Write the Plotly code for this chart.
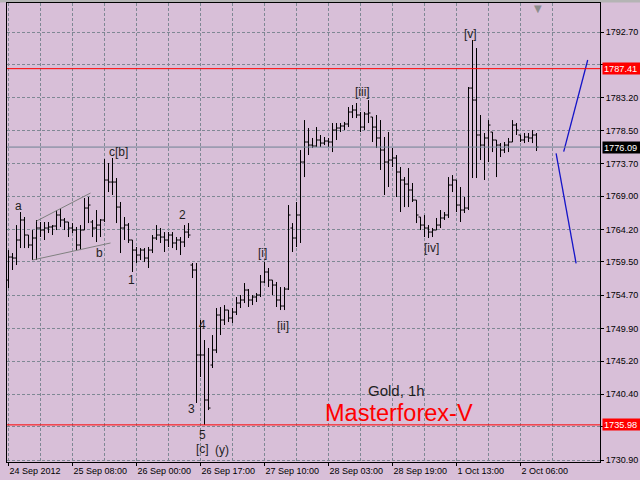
import plotly.graph_objects as go

# ---------------- data (Gold, 1h) ----------------
bar_index = list(range(133))
opens = [1756.89,1760.21,1760.07,1762.67,1765.56,1763.39,1761.95,1762.96,1764.40,1764.11,
         1764.40,1764.55,1764.69,1766.28,1765.56,1765.27,1764.40,1764.11,1761.95,1764.11,
         1767.29,1765.27,1764.40,1764.83,1765.56,1771.33,1771.04,1771.04,1767.43,1764.40,
         1764.83,1762.67,1761.22,1760.50,1761.22,1760.07,1761.22,1762.96,1763.39,1763.10,
         1762.67,1763.39,1762.24,1762.67,1762.38,1763.82,1759.06,1758.34,1746.07,1746.07,
         1739.57,1744.62,1746.79,1751.84,1751.12,1752.56,1751.41,1752.27,1753.57,1754.01,
         1755.45,1754.01,1754.44,1754.73,1756.61,1758.05,1756.89,1756.17,1754.01,1753.14,
         1755.59,1764.40,1762.96,1766.28,1773.93,1776.82,1776.38,1776.24,1777.11,1776.67,
         1776.96,1776.82,1778.55,1778.84,1779.13,1779.42,1781.15,1781.44,1780.72,1778.98,
         1780.86,1780.43,1778.98,1777.40,1775.66,1773.93,1774.22,1774.51,1772.49,1771.33,
         1770.75,1769.89,1768.44,1765.99,1764.83,1764.40,1763.82,1764.11,1764.83,1765.85,
         1766.28,1770.61,1771.33,1767.72,1767.00,1767.29,1784.61,1782.88,1777.83,1776.38,
         1777.40,1778.26,1777.11,1776.38,1775.66,1776.38,1776.82,1779.27,1777.83,1777.11,
         1777.54,1777.40,1777.83]
highs = [1761.22,1760.79,1764.83,1766.71,1765.99,1763.39,1764.11,1765.56,1765.27,1765.27,
         1765.27,1764.83,1767.00,1767.29,1765.85,1765.27,1765.12,1764.55,1764.83,1768.73,
         1768.88,1765.56,1767.00,1765.70,1774.36,1773.79,1774.51,1771.62,1768.16,1765.99,
         1765.12,1762.67,1761.66,1761.51,1761.51,1761.66,1763.39,1764.83,1764.40,1763.82,
         1763.82,1763.82,1763.10,1763.10,1764.83,1765.12,1759.35,1759.35,1751.12,1748.23,
         1747.08,1748.95,1752.85,1753.00,1753.28,1752.56,1752.85,1754.44,1754.73,1756.46,
         1755.59,1754.73,1755.02,1757.62,1759.49,1758.63,1756.89,1756.61,1755.88,1755.88,
         1767.72,1765.12,1768.16,1775.66,1779.99,1778.84,1777.40,1778.98,1777.83,1777.54,
         1777.40,1779.56,1779.56,1779.56,1779.71,1781.87,1782.16,1782.45,1781.15,1781.15,
         1782.88,1780.43,1780.72,1779.99,1777.54,1778.26,1775.95,1774.94,1773.21,1771.76,
         1773.06,1770.90,1768.44,1765.99,1766.28,1764.83,1764.40,1765.85,1767.00,1766.71,
         1771.76,1772.05,1771.33,1770.32,1768.88,1784.76,1791.54,1790.39,1780.72,1778.12,
         1779.99,1778.26,1777.11,1776.67,1776.82,1777.40,1779.99,1779.56,1777.83,1778.12,
         1778.12,1778.55,1778.12]
lows = [1755.74,1758.34,1759.06,1761.51,1761.51,1761.51,1759.78,1759.78,1763.10,1762.67,
        1763.68,1763.39,1764.11,1764.55,1764.11,1763.10,1763.68,1761.22,1761.22,1764.11,
        1765.12,1763.10,1762.38,1763.10,1765.27,1769.60,1769.17,1765.12,1760.79,1762.67,
        1762.24,1758.05,1759.35,1759.78,1759.49,1758.63,1760.79,1762.67,1762.24,1760.94,
        1761.66,1761.51,1761.22,1760.50,1761.66,1762.96,1757.18,1739.14,1742.89,1735.98,
        1738.12,1744.19,1746.35,1748.95,1750.40,1750.83,1750.69,1751.84,1752.85,1753.57,
        1753.00,1753.28,1753.72,1754.44,1756.46,1755.88,1754.73,1753.00,1752.56,1752.56,
        1755.45,1760.94,1761.66,1762.24,1771.76,1774.94,1775.95,1776.10,1776.10,1776.38,
        1776.10,1775.37,1777.11,1778.26,1778.55,1778.98,1780.28,1780.28,1778.26,1778.55,
        1779.56,1776.82,1775.95,1772.78,1769.17,1770.32,1773.21,1768.88,1766.71,1767.43,
        1767.43,1768.16,1765.12,1764.11,1763.10,1762.96,1763.10,1764.11,1764.40,1765.56,
        1765.85,1769.60,1766.71,1765.27,1766.57,1767.00,1771.62,1771.62,1774.22,1771.33,
        1773.93,1775.37,1771.76,1774.65,1775.23,1775.37,1776.82,1777.83,1776.82,1776.67,
        1776.82,1776.67,1775.52]
closes = [1760.21,1760.07,1762.67,1765.56,1763.39,1761.95,1762.96,1764.40,1764.11,1764.40,
          1764.55,1764.69,1766.28,1765.56,1765.27,1764.40,1764.11,1761.95,1764.11,1767.29,
          1767.72,1764.40,1764.83,1765.56,1771.33,1771.04,1771.04,1767.43,1764.40,1764.83,
          1762.67,1761.22,1760.50,1761.22,1760.07,1761.22,1762.96,1763.39,1763.10,1762.67,
          1763.39,1762.24,1762.67,1762.38,1763.82,1763.39,1758.34,1746.07,1746.07,1739.57,
          1738.41,1746.79,1751.84,1751.12,1752.56,1751.41,1752.27,1753.57,1754.01,1755.45,
          1754.01,1754.44,1754.73,1756.61,1758.05,1756.89,1756.17,1754.01,1753.14,1755.59,
          1766.28,1762.96,1766.28,1773.93,1776.82,1776.38,1776.24,1777.11,1776.67,1776.96,
          1776.82,1778.55,1778.84,1779.13,1779.42,1781.15,1781.44,1780.72,1778.98,1780.86,
          1781.01,1778.98,1777.40,1775.66,1773.93,1774.22,1774.51,1772.49,1771.33,1770.75,
          1769.89,1768.44,1766.28,1764.83,1764.40,1763.82,1764.11,1764.83,1765.85,1766.28,
          1770.61,1771.33,1767.72,1767.00,1767.29,1784.61,1782.88,1777.83,1776.38,1777.40,
          1779.27,1777.11,1776.38,1775.66,1776.38,1776.82,1779.27,1778.55,1777.11,1777.54,
          1777.40,1777.83,1776.09]

x_tick_bars = [0, 16, 32, 48, 64, 80, 96, 112, 128]
x_tick_labels = ["24 Sep 2012", "25 Sep 08:00", "26 Sep 00:00", "26 Sep 17:00",
                 "27 Sep 10:00", "28 Sep 03:00", "28 Sep 19:00", "1 Oct 13:00", "2 Oct 06:00"]
x_grid_bars = [8, 24, 40, 56, 72, 88, 104, 120, 136]

# grid levels; the 1735.70 and 1788.00 labels sit under the price boxes in the reference
y_tick_values = [1730.90, 1735.70, 1740.40, 1745.20, 1749.90, 1754.70, 1759.50,
                 1764.20, 1769.00, 1773.70, 1778.50, 1783.20, 1788.00, 1792.70]
y_tick_labels = ["1730.90", "", "1740.40", "1745.20", "1749.90", "1754.70", "1759.50",
                 "1764.20", "1769.00", "1773.70", "1778.50", "1783.20", "", "1792.70"]

level_prices = [1787.41, 1776.09, 1735.98]
level_colors = ["#FF0000", "#6F8294", "#FF0000"]
level_box_colors = ["#FF0000", "#000000", "#FF0000"]

wedge_upper_x = [7.0, 20.5]
wedge_upper_y = [1765.41, 1769.45]
wedge_lower_x = [6.0, 25.5]
wedge_lower_y = [1759.78, 1762.24]

proj_down_x = [136.9, 141.9]
proj_down_y = [1775.18, 1759.30]
proj_up_x = [138.8, 144.8]
proj_up_y = [1775.42, 1788.66]

wave_labels = ["a", "c[b]", "b", "1", "2", "3", "4", "5", "[c]", "(y)",
               "[i]", "[ii]", "[iii]", "[iv]", "[v]"]
wave_x = [2.6, 27.6, 22.7, 30.7, 43.6, 45.7, 48.5, 48.5, 48.5, 53.4,
          63.5, 68.7, 88.6, 105.7, 115.5]
wave_y = [1767.58, 1775.37, 1760.79, 1756.89, 1766.28, 1738.27, 1750.40, 1734.51, 1732.49, 1732.35,
          1760.79, 1750.25, 1784.04, 1761.51, 1792.41]

BG = "#D8BFD8"
GRID = "#7F8894"
FONT = "Liberation Sans, Arial, sans-serif"

fig = go.Figure()

fig.add_trace(go.Ohlc(
    x=bar_index, open=opens, high=highs, low=lows, close=closes,
    increasing=dict(line=dict(color="black", width=1)),
    decreasing=dict(line=dict(color="black", width=1)),
    tickwidth=0.5, showlegend=False, hoverinfo="skip"))

fig.add_trace(go.Scatter(x=wedge_upper_x, y=wedge_upper_y, mode="lines",
                         line=dict(color="#808080", width=1), showlegend=False, hoverinfo="skip"))
fig.add_trace(go.Scatter(x=wedge_lower_x, y=wedge_lower_y, mode="lines",
                         line=dict(color="#808080", width=1), showlegend=False, hoverinfo="skip"))
fig.add_trace(go.Scatter(x=proj_down_x, y=proj_down_y, mode="lines",
                         line=dict(color="#1414C8", width=1.3), showlegend=False, hoverinfo="skip"))
fig.add_trace(go.Scatter(x=proj_up_x, y=proj_up_y, mode="lines",
                         line=dict(color="#1414C8", width=1.3), showlegend=False, hoverinfo="skip"))

shapes = []
for p, c in zip(level_prices, level_colors):
    shapes.append(dict(type="line", xref="paper", x0=0, x1=1, yref="y", y0=p, y1=p,
                       line=dict(color=c, width=1), layer="above"))
# top grey strip of the window frame
shapes.append(dict(type="rect", xref="paper", yref="paper", x0=-0.02, x1=1.1,
                   y0=1.0011, y1=1.01, fillcolor="#B4B4B4", line=dict(width=0), layer="below"))

annotations = []
for t, x, y in zip(wave_labels, wave_x, wave_y):
    annotations.append(dict(x=x, y=y, xref="x", yref="y", text=t, showarrow=False,
                            font=dict(family=FONT, size=12, color="#1E1E1E")))
annotations.append(dict(x=96.9, y=1741.01, xref="x", yref="y", text="Gold, 1h", showarrow=False,
                        font=dict(family=FONT, size=15, color="#1E1E1E")))
annotations.append(dict(x=97.6, y=1737.69, xref="x", yref="y", text="Masterforex-V", showarrow=False,
                        font=dict(family=FONT, size=23.5, color="#FF0000")))
for p, bc in zip(level_prices, level_box_colors):
    annotations.append(dict(x=1, xref="paper", xanchor="left", xshift=2, y=p, yref="y",
                            text=f"{p:.2f}", showarrow=False, bgcolor=bc, borderpad=1,
                            width=36, height=9, align="left",
                            font=dict(family=FONT, size=9.2, color="white")))
annotations.append(dict(x=0.9056, y=1.004, xref="paper", yref="paper", yanchor="top",
                        text="▼", showarrow=False,
                        font=dict(family="DejaVu Sans", size=10, color="#8C8C8C")))

fig.update_layout(
    width=640, height=480,
    margin=dict(l=7, r=40, t=3, b=18, pad=0),
    paper_bgcolor=BG, plot_bgcolor=BG,
    shapes=shapes, annotations=annotations,
    showlegend=False,
    xaxis=dict(range=[-0.375, 147.875], rangeslider=dict(visible=False),
               tickmode="array", tickvals=x_tick_bars, ticktext=x_tick_labels,
               ticks="outside", ticklen=3, tickcolor="black",
               ticklabelposition="outside right",
               showgrid=True, gridcolor=GRID, griddash="3px,2px", gridwidth=1,
               minor=dict(tickvals=x_grid_bars, showgrid=True, gridcolor=GRID,
                          griddash="3px,2px", gridwidth=1, ticks=""),
               showline=True, linecolor="black", linewidth=1, mirror=True,
               zeroline=False, fixedrange=True,
               tickfont=dict(family=FONT, size=9, color="black")),
    yaxis=dict(range=[1730.62, 1796.89], side="right",
               tickmode="array", tickvals=y_tick_values, ticktext=y_tick_labels,
               ticks="outside", ticklen=3, tickcolor="black",
               showgrid=True, gridcolor=GRID, griddash="3px,2px", gridwidth=1,
               showline=True, linecolor="black", linewidth=1, mirror=True,
               zeroline=False, fixedrange=True,
               tickfont=dict(family=FONT, size=9, color="black")),
)

fig.write_html("out.html", config={"displayModeBar": False},
               post_script="document.body.style.margin='0';document.body.style.overflow='hidden';")
